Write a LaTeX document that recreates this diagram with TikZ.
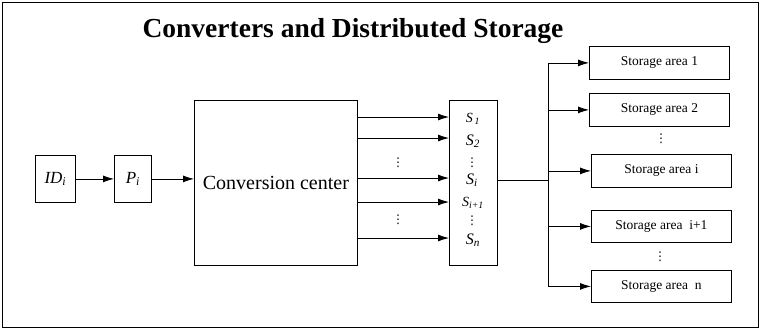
\documentclass[tikz,border=0pt]{standalone}
\usepackage{fontspec}
\setmainfont{Liberation Serif}
\newfontfamily\dvfont{DejaVu Sans}
\usetikzlibrary{arrows.meta}
\newcommand{\vsym}[2]{\textit{#1}\textsubscript{\textit{#2}}}
\begin{document}
\begin{tikzpicture}[x=1pt,y=-1pt,
  blk/.style={draw,line width=0.8pt,inner sep=0pt,anchor=north west},
  arr/.style={line width=0.8pt,-{Latex[length=11pt,width=7pt]}},
  ln/.style={line width=0.8pt},
  lbl/.style={font=\fontsize{13.5}{15}\selectfont},
  vd/.style={inner sep=0pt,font=\dvfont\fontsize{12}{14}\selectfont}]
\useasboundingbox (0,0) rectangle (762,330);
\draw[line width=0.9pt] (2.5,2.5) rectangle (758,327);
\node[font=\fontsize{27.5}{30}\selectfont\bfseries] (title) at (353,31) {Converters and Distributed Storage};
% left blocks
\node[blk,minimum width=40pt,minimum height=47pt] (id) at (35,155) {};
\node[font=\fontsize{17}{19}\selectfont] at (id.center) {\vsym{ID}{i}};
\node[blk,minimum width=37pt,minimum height=47pt] (p) at (114,155) {};
\node[font=\fontsize{17}{19}\selectfont] at (p.center) {\vsym{P}{i}};
\node[blk,minimum width=163pt,minimum height=165pt] (cc) at (194,100) {};
\node[font=\fontsize{20}{22}\selectfont] at (cc.center) {Conversion center};
\draw[arr] (id.east) -- (p.west);
\draw[arr] (p.east) -- (p.east -| cc.west);
% S box
\node[blk,minimum width=48pt,minimum height=165pt] (s) at (449,100) {};
\foreach \yy in {117,138,178,202,238}{
  \draw[arr] (cc.west |- 0,\yy) ++(163,0) coordinate (tmp) -- (s.west |- tmp);
}
\node[vd] (d1) at (398,163) {⋮};
\node[vd] (d2) at (398,220) {⋮};
\node[font=\fontsize{14}{16}\selectfont] (s1) at (473,119) {\vsym{S}{\,1}};
\node[font=\fontsize{16}{18}\selectfont] (s2) at (473,141) {\vsym{S}{2}};
\node[vd] (s3) at (472,163) {⋮};
\node[font=\fontsize{16}{18}\selectfont] (si) at (472,180) {\vsym{S}{i}};
\node[font=\fontsize{14}{16}\selectfont] (si1) at (473,203) {\vsym{S}{i+1}};
\node[vd] (s4) at (472,221) {⋮};
\node[font=\fontsize{16}{18}\selectfont] (sn) at (473,240) {\vsym{S}{n}};
% storage boxes
\node[blk,minimum width=140pt,minimum height=33pt] (b1) at (589,46) {};
\node[lbl] at (b1.center) {Storage area 1};
\node[blk,minimum width=140pt,minimum height=33pt] (b2) at (589,93) {};
\node[lbl] at (b2.center) {Storage area 2};
\node[blk,minimum width=140pt,minimum height=33pt] (bi) at (591,154) {};
\node[lbl] at (bi.center) {Storage area i};
\node[blk,minimum width=140pt,minimum height=32pt] (bi1) at (591,210) {};
\node[lbl] at (bi1.center) {Storage area\ \ i+1};
\node[blk,minimum width=140pt,minimum height=32pt] (bn) at (591,270) {};
\node[lbl] at (bn.center) {Storage area\ \ n};
\node[vd] (d3) at (661,139) {⋮};
\node[vd] (d4) at (660,257) {⋮};
% bus
\coordinate (bus) at (548,180);
\draw[ln] (s.east |- bus) -- (bus);
\draw[ln] (bus |- b1.west) -- (bus |- bn.west);
\draw[arr] (bus |- b1.west) -- (b1.west);
\draw[arr] (bus |- b2.west) -- (b2.west);
\draw[arr] (bus |- bi.west) -- (bi.west);
\draw[arr] (bus |- bi1.west) -- (bi1.west);
\draw[arr] (bus |- bn.west) -- (bn.west);
\end{tikzpicture}
\end{document}
